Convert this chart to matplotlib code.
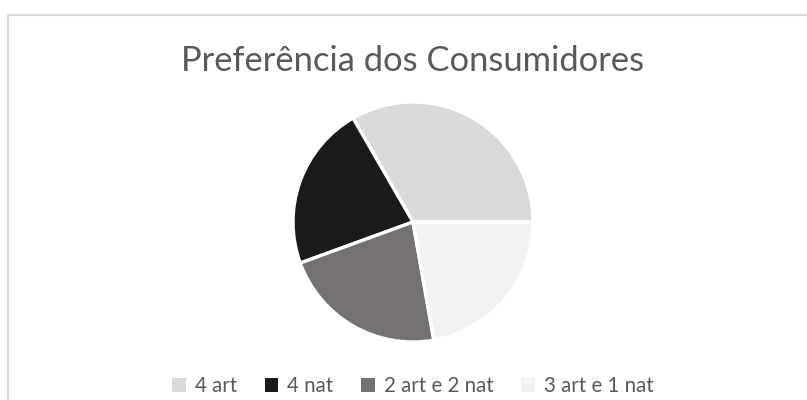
import matplotlib
matplotlib.use("Agg")
import matplotlib.pyplot as plt
from matplotlib.patches import Rectangle, Patch

categories = ["4 art", "4 nat", "2 art e 2 nat", "3 art e 1 nat"]
values = [12, 8, 8, 8]
colors = ["#D9D9D9", "#1A1A1A", "#767171", "#F2F2F2"]
title = "Preferência dos Consumidores"

W, H = 807, 400
fig = plt.figure(figsize=(W / 100, H / 100), dpi=100)
fig.patch.set_facecolor("white")
plt.rcParams["font.family"] = ["Lato", "DejaVu Sans"]

# chart border (partially visible)
border = Rectangle((8 / W, -0.1), 2, 1.1 - 15 / H, transform=fig.transFigure,
                   fill=False, edgecolor="#D9D9D9", linewidth=1.6)
fig.patches.append(border)

cx, cy, r = 413, 222, 120
ax = fig.add_axes([(cx - r) / W, (H - cy - r) / H, 2 * r / W, 2 * r / H])
ax.pie(values, colors=colors, startangle=0, counterclock=True, radius=1,
       wedgeprops=dict(edgecolor="white", linewidth=2.4))
ax.set_xlim(-1, 1)
ax.set_ylim(-1, 1)
ax.set_aspect("equal")
ax.axis("off")

fig.text(cx / W, 1 - 61 / H, title, ha="center", va="center",
         fontsize=24.8, color="#595959")

handles = [Patch(facecolor=c, edgecolor="none") for c in colors]
leg = fig.legend(handles, categories, loc="center", ncol=4,
                 bbox_to_anchor=(413 / W, 1 - 386 / H), frameon=False,
                 fontsize=14.8, handlelength=0.65, handleheight=0.65,
                 handletextpad=0.45, columnspacing=1.35)
for t in leg.get_texts():
    t.set_color("#595959")

fig.savefig("out.png", dpi=100)
